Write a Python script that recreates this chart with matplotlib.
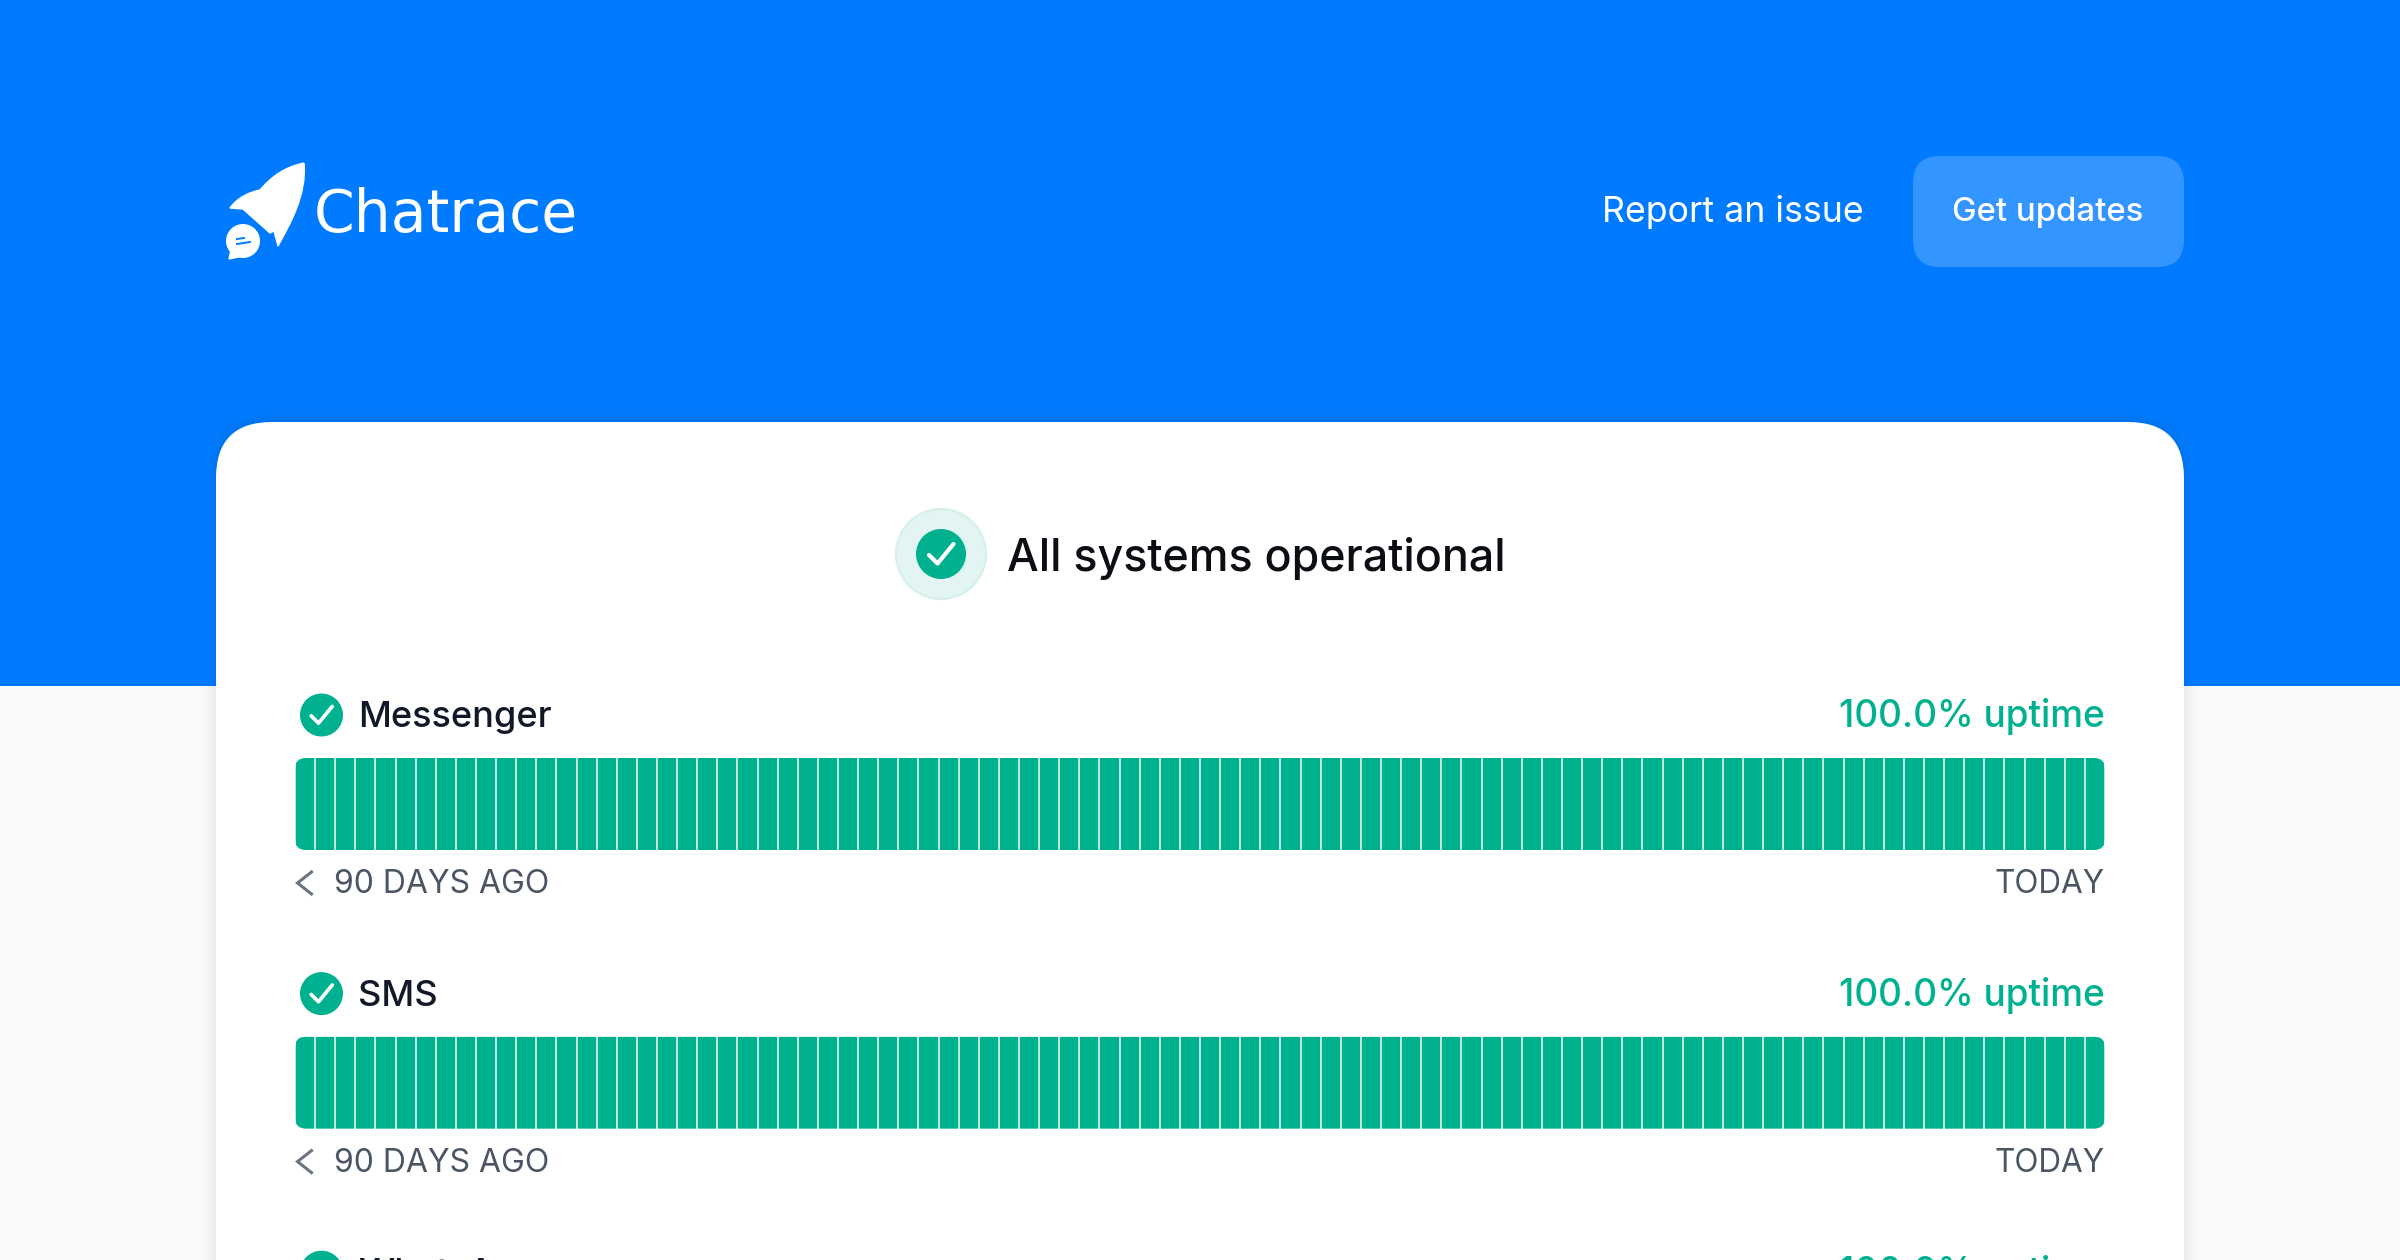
import matplotlib
matplotlib.use("Agg")
import matplotlib.pyplot as plt
from matplotlib.patches import Circle, FancyBboxPatch, PathPatch, Rectangle
from matplotlib.path import Path

plt.rcParams["font.family"] = ["Inter", "DejaVu Sans"]

W, H = 2400, 1260

BLUE = "#007BFF"
GREEN = "#00B190"
GREY = "#4B5563"

brand = "Chatrace"
headline = "All systems operational"
nav_link = "Report an issue"
nav_button = "Get updates"
left_label = "90 DAYS AGO"
right_label = "TODAY"
services = ["Messenger", "SMS", "WhatsApp"]
uptime_labels = ["100.0% uptime", "100.0% uptime", "100.0% uptime"]

# one value per day, oldest first
messenger_days = [
    100, 100, 100, 100, 100, 100, 100, 100, 100, 100, 100, 100, 100, 100, 100,
    100, 100, 100, 100, 100, 100, 100, 100, 100, 100, 100, 100, 100, 100, 100,
    100, 100, 100, 100, 100, 100, 100, 100, 100, 100, 100, 100, 100, 100, 100,
    100, 100, 100, 100, 100, 100, 100, 100, 100, 100, 100, 100, 100, 100, 100,
    100, 100, 100, 100, 100, 100, 100, 100, 100, 100, 100, 100, 100, 100, 100,
    100, 100, 100, 100, 100, 100, 100, 100, 100, 100, 100, 100, 100, 100, 100,
]
sms_days = [
    100, 100, 100, 100, 100, 100, 100, 100, 100, 100, 100, 100, 100, 100, 100,
    100, 100, 100, 100, 100, 100, 100, 100, 100, 100, 100, 100, 100, 100, 100,
    100, 100, 100, 100, 100, 100, 100, 100, 100, 100, 100, 100, 100, 100, 100,
    100, 100, 100, 100, 100, 100, 100, 100, 100, 100, 100, 100, 100, 100, 100,
    100, 100, 100, 100, 100, 100, 100, 100, 100, 100, 100, 100, 100, 100, 100,
    100, 100, 100, 100, 100, 100, 100, 100, 100, 100, 100, 100, 100, 100, 100,
]


def rounded(x0, y0, x1, y1, r, **kw):
    return FancyBboxPatch((x0 + r, y0 + r), x1 - x0 - 2 * r, y1 - y0 - 2 * r,
                          boxstyle=f"round,pad={r},rounding_size={r}", **kw)


def check_icon(ax, cx, cy, r):
    ax.add_patch(Circle((cx, cy), r, fc=GREEN, ec="none", zorder=5))
    s = r / 25.0
    ax.plot([cx - 12 * s, cx - 3.5 * s, cx + 12.5 * s],
            [cy + 1 * s, cy + 9.5 * s, cy - 10 * s],
            color="white", lw=2.6 * s + 0.4, solid_capstyle="round",
            solid_joinstyle="round", zorder=6)


def uptime_bar(fig, page, values, y0, y1):
    x0, x1 = 295, 2105
    # pale strip behind the bars shows through the gaps
    page.add_patch(rounded(x0, y0, x1, y1, 11, fc="#BDE9DF", ec="none", zorder=5))
    bar_ax = fig.add_axes([x0 / W, 1 - y1 / H, (x1 - x0) / W, (y1 - y0) / H])
    bars = bar_ax.bar(range(len(values)), values, width=0.9, color=GREEN, linewidth=0)
    bar_ax.set_xlim(-0.5, len(values) - 0.5)
    bar_ax.set_ylim(0, 100)
    bar_ax.axis("off")
    clip = rounded(x0, y0, x1, y1, 11, transform=page.transData)
    for b in bars:
        b.set_clip_path(clip)


fig = plt.figure(figsize=(W / 100, H / 100), dpi=100, facecolor="#F9FAFC")
ax = fig.add_axes([0, 0, 1, 1])
ax.set_xlim(0, W)
ax.set_ylim(H, 0)
ax.axis("off")

# header band
ax.add_patch(Rectangle((0, 0), W, 686, fc=BLUE, ec="none", zorder=1))

# rocket logo
rocket = Path(
    [(304, 163), (285, 167), (272, 176), (260, 190),
     (250, 192), (238, 197), (230, 208),
     (243, 209), (270, 233), (274, 231), (278, 246),
     (290, 224), (307, 195), (304, 163)],
    [Path.MOVETO, Path.CURVE4, Path.CURVE4, Path.CURVE4,
     Path.CURVE4, Path.CURVE4, Path.CURVE4,
     Path.LINETO, Path.LINETO, Path.LINETO, Path.LINETO,
     Path.CURVE4, Path.CURVE4, Path.CURVE4],
)
ax.add_patch(PathPatch(rocket, fc="white", ec="white", lw=1, zorder=3))
ax.add_patch(Circle((243, 241), 17, fc="white", ec="none", zorder=3))
ax.fill([231, 229, 243], [250, 259, 256], color="white", zorder=3)
ax.plot([237, 244], [239, 238], color=BLUE, lw=1.4, zorder=4)
ax.plot([237, 250], [244, 242], color=BLUE, lw=1.4, zorder=4)
ax.text(314, 232, brand, color="white", fontsize=42, family="DejaVu Sans",
        va="baseline", zorder=3)

# nav
ax.text(1864, 222, nav_link, color="white", fontsize=25.7, ha="right", va="baseline", zorder=3)
ax.add_patch(rounded(1913, 156, 2184, 267, 27, fc="#3395FF", ec="none", zorder=2))
ax.text(2048, 221, nav_button, color="white", fontsize=23.7, ha="center", va="baseline",
        fontweight=500, zorder=3)

# card with its soft shadow
for grow, alpha in [(14, 0.006), (11, 0.008), (8, 0.012), (5, 0.016), (2, 0.022)]:
    ax.add_patch(rounded(216 - grow, 422 - grow, 2184 + grow, 1400, 56 + grow,
                         fc="#1F2A44", ec="none", alpha=alpha, zorder=2))
ax.add_patch(rounded(216, 422, 2184, 1400, 56, fc="white", ec="none", zorder=3))

# overall status
ax.add_patch(Circle((941, 554), 45, fc="#E3F5F2", ec="#D5F0EB", lw=1.5, zorder=4))
check_icon(ax, 941, 554, 25)
ax.text(1007, 571, headline, color="#0B0F14", fontsize=32.2, fontweight=500,
        va="baseline", zorder=5)

# service rows
row_gap = 278.6
for i, (name, uptime) in enumerate(zip(services, uptime_labels)):
    dy = i * row_gap
    check_icon(ax, 321.5, 715 + dy, 21.5)
    ax.text(358, 727 + dy, name, color="#111827", fontsize=26, fontweight=500,
            va="baseline", zorder=5)
    ax.text(2105, 727 + dy, uptime, color=GREEN, fontsize=26.6, fontweight=500, ha="right",
            va="baseline", zorder=5)
    if i < 2:
        ax.plot([311.5, 297.5, 311.5], [872 + dy, 883 + dy, 894 + dy], color="#6B7280",
                lw=2.2, solid_joinstyle="miter", zorder=5)
        ax.text(334, 893 + dy, left_label, color=GREY, fontsize=23, va="baseline", zorder=5)
        ax.text(2105, 893 + dy, right_label, color=GREY, fontsize=22.7, ha="right",
                va="baseline", zorder=5)

uptime_bar(fig, ax, messenger_days, 758, 850)
uptime_bar(fig, ax, sms_days, 758 + row_gap, 850 + row_gap)

fig.savefig("out.png", dpi=100, facecolor=fig.get_facecolor())
